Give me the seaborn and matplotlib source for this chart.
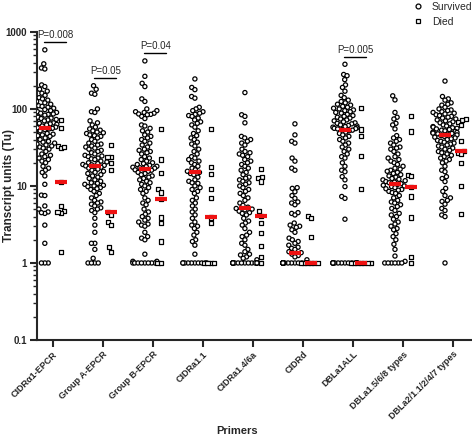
import matplotlib
matplotlib.use("Agg")
import matplotlib.pyplot as plt
from matplotlib.lines import Line2D
import seaborn as sns
import numpy as np
import pandas as pd

# データ (値は図から読み取り)
primers = ["CIDRα1-EPCR", "Group A-EPCR", "Group B-EPCR", "CIDRa1.1", "CIDRa1.4/6a",
           "CIDRd", "DBLa1ALL", "DBLa1.5/6/8 types", "DBLa2/1.1/2/4/7 types"]

survived = [
    # CIDRα1-EPCR
    [585, 385, 340, 330, 205, 195, 180, 170, 160, 150, 140, 135, 130, 125, 120, 115, 110, 108, 105, 102,
     100, 98, 95, 92, 90, 88, 86, 85, 83, 80, 78, 76, 75, 73, 72, 70, 68, 67, 66, 65, 64, 63, 62, 61, 60,
     59, 58, 57, 56, 55, 54, 52, 50, 48, 47, 46, 45, 44, 42, 40, 38, 37, 36, 35, 34, 33, 32, 31, 30, 28,
     26, 25, 24, 23, 22, 21, 20, 18, 17, 16, 15, 13.5, 10.5, 7.6, 7.5, 5.5, 5.0, 4.6, 4.4, 4.5, 3.1, 1.8,
     1, 1, 1],
    # Group A-EPCR
    [200, 180, 160, 155, 100, 92, 90, 70, 66, 62, 58, 55, 53, 52, 50, 49, 48, 46, 45, 44, 42, 40, 38, 36,
     35, 34, 33, 32, 31, 30, 29, 28, 27, 26, 25, 24.5, 24, 23, 22.5, 22, 21, 20.5, 20, 19.5, 19, 18.8, 18.5,
     18.2, 18, 17.5, 17, 16.5, 16, 15.5, 15, 14.5, 14, 13.5, 13, 12.5, 12, 11.5, 11, 10.8, 10.5, 10.2, 10,
     9.8, 9.5, 9.2, 9, 8.5, 8, 7.5, 7, 6.5, 6.2, 6, 5.8, 5.5, 5.2, 5, 4.8, 4.5, 3.8, 3.1, 2.5, 1.8, 1.8,
     1.5, 1.15, 1, 1, 1, 1],
    # Group B-EPCR
    [420, 265, 215, 195, 135, 125, 100, 95, 92, 90, 88, 86, 85, 84, 80, 75, 62, 60, 56, 52, 50, 46, 44, 42,
     40, 38, 36, 34, 32, 30, 29, 28, 27, 26, 24, 23, 22, 21, 20, 19.5, 19, 18.5, 18, 17.8, 17.5, 17.2, 17,
     16.6, 16.2, 16, 15.5, 15, 14.5, 14, 13.5, 13, 12.5, 12, 11.5, 11, 10.5, 10, 9.5, 9, 8.5, 8, 7, 6.5, 6,
     5.7, 5, 4.6, 4.3, 4.0, 3.8, 3.6, 3.4, 3.2, 3.1, 3.0, 2.5, 2.2, 2.1, 2.0, 1.3, 1.05, 1.05,
     1, 1, 1, 1, 1, 1, 1, 1],
    # CIDRa1.1
    [245, 190, 178, 145, 138, 105, 100, 95, 92, 88, 85, 82, 80, 76, 72, 68, 65, 62, 58, 52, 48, 45, 42, 40,
     37, 35, 33, 30, 28, 26, 24, 23, 22, 21, 20, 19, 18, 17, 16.2, 15.5, 15, 14.5, 14, 13, 12, 11.5, 11,
     10.8, 10, 9.5, 9, 8.5, 8, 7, 6.5, 6, 5.5, 5, 4.6, 4.2, 3.8, 3.4, 3.1, 3.0, 2.8, 2.5, 2.3, 2.0, 1.9,
     1.7, 1.3, 1, 1, 1, 1, 1, 1, 1, 1, 1, 1],
    # CIDRa1.4/6a
    [163, 84, 80, 66, 44, 42, 40, 38, 36, 34, 30, 28, 27, 26, 25, 24, 22, 21, 20, 19, 18, 17, 16, 15, 14,
     13, 12.6, 12, 11.5, 11, 10.5, 10, 9.5, 9, 8.5, 8, 7.5, 7, 6.5, 6, 5.6, 5.3, 5.1, 5.0, 4.9, 4.7, 4.5,
     4.4, 4.2, 3.8, 3.5, 3.3, 3.1, 2.8, 2.5, 2.3, 2.2, 2.0, 1.8, 1.7, 1.5, 1.4, 1.3, 1.27, 1.2, 1.15, 1.1,
     1, 1, 1, 1, 1, 1, 1, 1, 1, 1, 1, 1, 1, 1, 1, 1, 1, 1],
    # CIDRd
    [64, 46, 38, 36, 23, 21, 17, 16, 9.5, 9.3, 8.4, 7.5, 6.9, 6.2, 6.0, 5.7, 4.5, 4.4, 4.2, 3.3, 3.1, 3.0,
     2.9, 2.7, 2.5, 2.1, 2.0, 1.9, 1.8, 1.7, 1.6, 1.55, 1.5, 1.4, 1.36, 1.3, 1.25, 1.2, 1.1,
     1, 1, 1, 1, 1, 1, 1, 1, 1, 1, 1, 1, 1, 1, 1, 1, 1, 1, 1, 1, 1, 1, 1, 1, 1, 1, 1, 1, 1, 1],
    # DBLa1ALL
    [380, 280, 270, 240, 205, 190, 170, 150, 140, 130, 125, 120, 115, 112, 108, 105, 102, 100, 97, 95, 92,
     90, 88, 85, 82, 80, 78, 76, 74, 72, 70, 68, 66, 65, 64, 62, 61, 60, 59, 58, 57, 56, 55.5, 55, 54, 53,
     52, 50, 48, 46, 44, 42, 40, 38, 36, 34, 32, 30, 28, 26, 24, 23, 20, 18, 16, 15.3, 13.2, 12, 9.8, 7.3,
     6.9, 3.7, 1, 1, 1, 1, 1, 1, 1, 1, 1, 1, 1, 1, 1, 1, 1, 1, 1],
    # DBLa1.5/6/8 types
    [148, 131, 90, 78, 74, 65, 62, 55, 45, 42, 40, 38, 36, 34, 32, 31, 30, 28, 26, 24, 23, 22, 21, 20, 19,
     18, 17, 16.5, 16, 15.5, 15, 14.5, 14, 13.5, 13, 12.5, 12.2, 12, 11.7, 11.4, 11.2, 11, 10.7, 10.5,
     10.2, 10, 9.8, 9.5, 9.2, 9, 8.8, 8.5, 8.2, 8, 7.5, 7, 6.5, 6.2, 6, 5.7, 5.4, 5.1, 4.8, 4.4, 4.2, 4.0,
     3.7, 3.4, 3.2, 3.0, 2.8, 2.7, 2.4, 2.2, 2.0, 1.75, 1.5, 1.23, 1.05, 1, 1, 1, 1, 1, 1],
    # DBLa2/1.1/2/4/7 types
    [230, 145, 135, 130, 120, 115, 112, 105, 100, 97, 95, 92, 90, 88, 86, 84, 82, 80, 78, 76, 74, 72, 70,
     68, 66, 64, 62, 60, 59, 58, 57, 56, 55, 54, 53, 52, 51, 50, 49.5, 49, 48.5, 48, 47.5, 47, 46, 45, 44,
     43, 42, 41, 40, 39, 38, 37, 36, 35, 34, 33, 32, 31, 30, 29, 28, 27, 26, 25, 24, 23, 22, 21, 20, 18,
     16, 15.3, 13.2, 12.5, 11.4, 9.3, 8.5, 7.5, 7, 6.5, 6.3, 5.8, 5.1, 4.8, 4.2, 4.0, 1],
]

died = [
    [72, 56, 33, 31, 32, 11.3, 5.5, 4.7, 4.4, 4.6, 1.4],
    [34, 24, 24, 20, 16, 4.6, 4.2, 3.4, 3.1, 1.6, 1.4],
    [55, 22, 14.6, 9.1, 8.2, 6.8, 3.9, 3.3, 1.9, 1, 1],
    [55, 17.8, 14.3, 9.1, 6.9, 3.9, 3.3, 1, 1, 1, 1],
    [16.5, 13.2, 12.6, 11.4, 4.7, 4.1, 3.3, 2.45, 1.66, 1.2, 1],
    [4.1, 3.8, 2.2, 1, 1, 1, 1, 1, 1],
    [102, 54, 44, 24.5, 9.1, 1, 1, 1, 1, 1, 1, 1],
    [80, 51, 14, 13.3, 9.6, 7.3, 3.9, 1.2, 1],
    [74, 72, 67, 62, 38, 28.7, 27, 26, 20, 10, 4.3],
]

# p値 (群の index, ラベル)
pvals = [(0, "P=0.008"), (1, "P=0.05"), (2, "P=0.04"), (6, "P=0.005")]

outcomes = ["Survived", "Died"]

rows = []
for p, vals in zip(primers, survived):
    rows += [(p, "Survived", v) for v in vals]
for p, vals in zip(primers, died):
    rows += [(p, "Died", v) for v in vals]
df = pd.DataFrame(rows, columns=["primer", "outcome", "value"])

# フォント設定
sns.set_style("ticks")
plt.rcParams["font.family"] = ["Liberation Sans", "DejaVu Sans"]
plt.rcParams["font.weight"] = "bold"

fig = plt.figure(figsize=(4.72, 4.37), dpi=100)
ax = fig.add_axes([0.078, 0.222, 0.922, 0.705])
ax.set_yscale("log")
ax.set_ylim(0.1, 1000)
ax.set_xlim(-0.32, 8.38)

pal = {"Survived": "white", "Died": "white"}
common = dict(x="primer", y="value", hue="outcome", hue_order=outcomes, order=primers,
              dodge=True, palette=pal, edgecolor="black", linewidth=0.9,
              size=3.0, legend=False, ax=ax, warn_thresh=1.0)
sns.swarmplot(data=df[df.outcome == "Survived"], marker="o", **common)
n_surv = len(ax.collections)
sns.swarmplot(data=df[df.outcome == "Died"], marker="s", **common)
ax.set_xlim(-0.32, 8.38)

# swarm を一度確定させてから, GraphPad 風に列を狭める (中心 ±0.2 -> ±0.16)
fig.canvas.draw()
for k, coll in enumerate(ax.collections):
    coll.__dict__.pop("draw", None)
    off = np.asarray(coll.get_offsets()).copy()
    if not len(off):
        continue
    sign = -1 if k < n_surv else 1
    idx = np.round(off[:, 0] - sign * 0.2)
    off[:, 0] = idx + sign * 0.16 + (off[:, 0] - (idx + sign * 0.2)) * 0.6
    coll.set_offsets(off)

# 中央値 (赤いバー)
sns.pointplot(data=df, x="primer", y="value", hue="outcome", hue_order=outcomes, order=primers,
              estimator=np.median, errorbar=None, dodge=0.32, markers="_", linestyles="none",
              palette={"Survived": "#ee1111", "Died": "#ee1111"}, markersize=8.5, markeredgewidth=3,
              legend=False, ax=ax, zorder=5)

# P値のブラケット
for idx, label in pvals:
    top = max(survived[idx]) * 1.25
    ax.plot([idx - 0.17, idx + 0.26], [top, top], color="black", lw=1)
    ax.text(idx + 0.05, top * 1.07, label, ha="center", va="bottom", fontsize=7,
            fontweight="normal")

ax.set_ylim(0.1, 1000)
ax.set_xlim(-0.32, 8.38)
ax.set_yticks([0.1, 1, 10, 100, 1000])
ax.set_yticklabels(["0.1", "1", "10", "100", "1000"], fontsize=7, fontweight="bold")
ax.set_xticks(range(len(primers)))
ax.set_xticklabels(primers, rotation=45, ha="right", rotation_mode="anchor", fontsize=6.5,
                   fontweight="bold")
ax.tick_params(axis="both", which="major", length=5, width=1.5, pad=2)
ax.tick_params(axis="y", which="minor", length=3, width=1)
ax.set_xlabel("Primers", fontsize=8, fontweight="bold")
ax.xaxis.set_label_coords(0.46, -0.28)
ax.set_ylabel("Transcript units (Tu)", fontsize=8.5, fontweight="bold")
ax.yaxis.set_label_coords(-0.05, 0.5)
for s in ["left", "bottom"]:
    ax.spines[s].set_linewidth(1.5)
sns.despine(ax=ax)

handles = [Line2D([], [], marker="o", ls="none", mfc="white", mec="black", mew=0.9, ms=3.5),
           Line2D([], [], marker="s", ls="none", mfc="white", mec="black", mew=0.9, ms=3.5)]
fig.legend(handles, outcomes, loc="upper left", bbox_to_anchor=(0.862, 1.01), frameon=False,
           prop={"size": 7.5, "weight": "normal"}, handletextpad=0.8, labelspacing=0.45,
           borderaxespad=0.2, handlelength=1.0)

fig.savefig("out.png", dpi=100)
